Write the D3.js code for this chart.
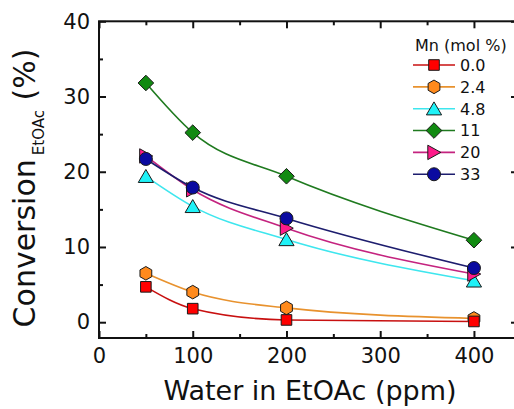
<!DOCTYPE html>
<html>
<head>
<meta charset="utf-8">
<script src="https://cdn.jsdelivr.net/npm/d3@7"></script>
<style>
  body { margin: 0; background: #fff; }
  text { font-family: "DejaVu Sans", Verdana, sans-serif; fill: #111; }
</style>
</head>
<body>
<svg id="chart" width="514" height="409"></svg>
<script>
// Water content of the solvent (ppm)
const water = [50, 100, 200, 400];
// Mn loading of each catalyst (mol %)
const mnLabels = ["0.0", "2.4", "4.8", "11", "20", "33"];
// EtOAc conversion (%) for each Mn loading
const conv_0_0 = [4.7, 1.8, 0.3, 0.1];
const conv_2_4 = [6.5, 4.0, 1.9, 0.5];
const conv_4_8 = [19.4, 15.4, 11.0, 5.5];
const conv_11  = [31.8, 25.2, 19.4, 10.9];
const conv_20  = [22.1, 17.6, 12.5, 6.4];
const conv_33  = [21.7, 17.9, 13.8, 7.2];
// Axis ticks
const xTickValues = [0, 100, 200, 300, 400];
const xMinorValues = [50, 150, 250, 350];
const yTickValues = [0, 10, 20, 30, 40];
const yMinorValues = [5, 15, 25, 35];

const seriesValues = [conv_0_0, conv_2_4, conv_4_8, conv_11, conv_20, conv_33];

// Marker outlines centred on (0,0)
function hexPath(r) {
  const pts = d3.range(6).map(k => {
    const a = (-90 + k * 60) * Math.PI / 180;
    return [r * Math.cos(a), r * Math.sin(a)];
  });
  return "M" + pts.map(p => p.join(",")).join("L") + "Z";
}
const shapes = {
  square: "M-5.3,-5.3H5.3V5.3H-5.3Z",
  hexagon: hexPath(6.8),
  triUp: "M0,-6.8L7.6,6.2L-7.6,6.2Z",
  diamond: "M0,-7.8L7.8,0L0,7.8L-7.8,0Z",
  triRight: "M6.8,0L-6.2,-7.2L-6.2,7.2Z",
  circle: "M6.5,0A6.5,6.5 0 1,1 -6.5,0A6.5,6.5 0 1,1 6.5,0Z"
};

const styles = [
  { line: "#c81010", fill: "#ff0000", shape: "square" },
  { line: "#e8922e", fill: "#ff8a1c", shape: "hexagon" },
  { line: "#3ee6ee", fill: "#1ff2f7", shape: "triUp" },
  { line: "#1f7a1f", fill: "#118a11", shape: "diamond" },
  { line: "#c4237f", fill: "#ff1a8a", shape: "triRight" },
  { line: "#1d1d6e", fill: "#0a0aa0", shape: "circle" }
];
// Order in which the series are painted (later ones sit on top)
const paintOrder = [1, 0, 2, 3, 4, 5];

const svg = d3.select("#chart");
svg.append("rect").attr("width", 514).attr("height", 409).attr("fill", "#fff");

const x = d3.scaleLinear().domain([0, 447]).range([99, 518]);
const y = d3.scaleLinear().domain([-2.1, 40]).range([338, 21.3]);

const line = d3.line()
  .x((d, i) => x(water[i]))
  .y(d => y(d))
  .curve(d3.curveMonotoneX);

// Data
const plot = svg.append("g");
paintOrder.forEach(si => {
  const st = styles[si];
  const g = plot.append("g");
  g.append("path")
    .datum(seriesValues[si])
    .attr("d", line)
    .attr("fill", "none")
    .attr("stroke", st.line)
    .attr("stroke-width", 1.6);
  g.selectAll("path.mk")
    .data(seriesValues[si])
    .join("path")
    .attr("class", "mk")
    .attr("d", shapes[st.shape])
    .attr("transform", (d, i) => `translate(${x(water[i])},${y(d)})`)
    .attr("fill", st.fill)
    .attr("stroke", "#1a1a1a")
    .attr("stroke-width", 1);
});

// Axes with inward ticks on all four sides
function styleAxis(g) {
  g.select(".domain").remove();
  g.selectAll("line").attr("stroke", "#111").attr("stroke-width", 2);
  g.attr("font-size", 21).attr("font-family", "DejaVu Sans, Verdana, sans-serif");
  g.selectAll("text").attr("fill", "#111");
}
const plotLeft = x.range()[0], plotRight = x.range()[1];
const plotBottom = y.range()[0], plotTop = y.range()[1];

svg.append("g").attr("transform", `translate(${plotLeft},0)`)
  .call(d3.axisLeft(y).tickValues(yTickValues).tickSizeInner(-7).tickSizeOuter(0).tickPadding(9))
  .call(styleAxis);
svg.append("g").attr("transform", `translate(${plotLeft},0)`)
  .call(d3.axisLeft(y).tickValues(yMinorValues).tickSizeInner(-4).tickSizeOuter(0).tickFormat(""))
  .call(styleAxis);
svg.append("g").attr("transform", `translate(${plotRight},0)`)
  .call(d3.axisRight(y).tickValues(yTickValues).tickSizeInner(-7).tickSizeOuter(0).tickFormat(""))
  .call(styleAxis);
svg.append("g").attr("transform", `translate(${plotRight},0)`)
  .call(d3.axisRight(y).tickValues(yMinorValues).tickSizeInner(-4).tickSizeOuter(0).tickFormat(""))
  .call(styleAxis);

svg.append("g").attr("transform", `translate(0,${plotBottom})`)
  .call(d3.axisBottom(x).tickValues(xTickValues).tickSizeInner(-7).tickSizeOuter(0).tickPadding(10))
  .call(styleAxis);
svg.append("g").attr("transform", `translate(0,${plotBottom})`)
  .call(d3.axisBottom(x).tickValues(xMinorValues).tickSizeInner(-4).tickSizeOuter(0).tickFormat(""))
  .call(styleAxis);
svg.append("g").attr("transform", `translate(0,${plotTop})`)
  .call(d3.axisTop(x).tickValues(xTickValues).tickSizeInner(-7).tickSizeOuter(0).tickFormat(""))
  .call(styleAxis);
svg.append("g").attr("transform", `translate(0,${plotTop})`)
  .call(d3.axisTop(x).tickValues(xMinorValues).tickSizeInner(-4).tickSizeOuter(0).tickFormat(""))
  .call(styleAxis);

// Frame
svg.append("rect")
  .attr("x", plotLeft).attr("y", plotTop)
  .attr("width", plotRight - plotLeft).attr("height", plotBottom - plotTop)
  .attr("fill", "none").attr("stroke", "#111").attr("stroke-width", 2);

// Axis titles
svg.append("text")
  .attr("x", 310).attr("y", 400)
  .attr("text-anchor", "middle")
  .attr("font-size", 27)
  .text("Water in EtOAc (ppm)");

const yTitle = svg.append("text")
  .attr("transform", "translate(34.5,188) rotate(-90)")
  .attr("text-anchor", "middle")
  .attr("font-size", 30);
yTitle.append("tspan").text("Conversion");
yTitle.append("tspan").attr("font-size", 15).attr("dx", 4).attr("dy", 9).text("EtOAc");
yTitle.append("tspan").attr("dy", -9).text("\u00a0(%)");

// Legend
const legend = svg.append("g").attr("font-size", 16);
legend.append("text").attr("x", 415).attr("y", 51).text("Mn (mol %)");
mnLabels.forEach((lab, i) => {
  const st = styles[i];
  const cy = 65 + i * 21.85;
  const row = legend.append("g").attr("transform", `translate(0,${cy})`);
  row.append("line").attr("x1", 413).attr("x2", 455)
    .attr("stroke", st.line).attr("stroke-width", 1.6);
  row.append("path").attr("d", shapes[st.shape])
    .attr("transform", "translate(434,0)")
    .attr("fill", st.fill).attr("stroke", "#1a1a1a").attr("stroke-width", 1);
  row.append("text").attr("x", 460).attr("y", 5.8).text(lab);
});
</script>
</body>
</html>
